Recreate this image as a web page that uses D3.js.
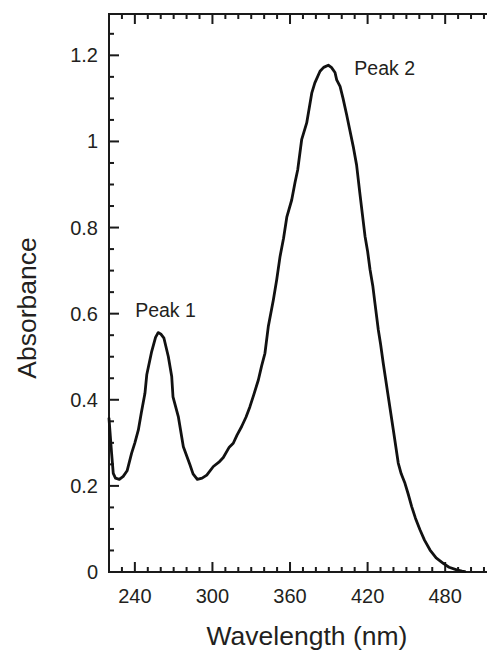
<!DOCTYPE html>
<html>
<head>
<meta charset="utf-8">
<script src="https://cdn.jsdelivr.net/npm/d3@7"></script>
<style>
  html, body { margin: 0; padding: 0; background: #fff; }
  svg { display: block; }
  text { font-family: "Liberation Sans", Arial, Helvetica, sans-serif; fill: #231f20; }
</style>
</head>
<body>
<svg id="chart" width="487" height="651"></svg>
<script>
// Data
const wavelength = [220, 222, 223.3, 225, 228, 231, 234, 237.5, 240, 242.7, 245, 247.8, 249.2, 253, 256, 258, 260, 262.5, 265.9, 268.5, 269.5, 273.6, 277.5, 282.6, 285, 288.3, 292, 295.6, 300.7, 305, 308.4, 313, 316.1, 319, 322.6, 326, 329, 332, 335.5, 338, 340.6, 343.2, 347.1, 349.7, 352.3, 355, 357.5, 361.3, 363.9, 366, 369, 372.9, 376.8, 379.2, 383.2, 386, 389.6, 392, 394.8, 396.1, 398.7, 401, 403.8, 406, 408.9, 411.5, 414, 416, 418, 420, 421.9, 424, 425.7, 428.3, 430, 432.1, 436, 439.9, 443.7, 446, 448.9, 451.5, 454.1, 457, 460.5, 464, 468.3, 473, 478.5, 483, 488.9, 493, 495.3];
const absorbance = [0.357, 0.276, 0.229, 0.218, 0.215, 0.222, 0.235, 0.276, 0.300, 0.330, 0.370, 0.415, 0.458, 0.512, 0.545, 0.556, 0.553, 0.543, 0.500, 0.454, 0.407, 0.361, 0.291, 0.249, 0.228, 0.215, 0.218, 0.225, 0.245, 0.255, 0.266, 0.290, 0.299, 0.318, 0.338, 0.360, 0.384, 0.412, 0.446, 0.478, 0.508, 0.570, 0.632, 0.679, 0.733, 0.775, 0.824, 0.864, 0.905, 0.935, 1.004, 1.043, 1.112, 1.136, 1.163, 1.172, 1.177, 1.172, 1.160, 1.143, 1.128, 1.100, 1.062, 1.030, 0.988, 0.945, 0.880, 0.830, 0.780, 0.745, 0.702, 0.665, 0.624, 0.562, 0.530, 0.485, 0.407, 0.330, 0.253, 0.228, 0.206, 0.180, 0.152, 0.125, 0.098, 0.074, 0.051, 0.033, 0.020, 0.011, 0.005, 0.002, 0.001];

const xTicks = [240, 300, 360, 420, 480];
const xMinorTicks = [230, 250, 260, 270, 280, 290, 310, 320, 330, 340, 350, 370, 380, 390, 400, 410, 430, 440, 450, 460, 470, 490, 500, 510];
const yTicks = [0, 0.2, 0.4, 0.6, 0.8, 1, 1.2];
const yMinorTicks = [0.05, 0.1, 0.15, 0.25, 0.3, 0.35, 0.45, 0.5, 0.55, 0.65, 0.7, 0.75, 0.85, 0.9, 0.95, 1.05, 1.1, 1.15, 1.25];
const peakLabels = ["Peak 1", "Peak 2"];
const peakWavelengths = [258, 389.6];
const peakValues = [0.556, 1.177];

const xTitle = "Wavelength (nm)";
const yTitle = "Absorbance";

const svg = d3.select("#chart");
const mLeft = 109, mTop = 14, mBottom = 572;

const x = d3.scaleLinear().domain([220, 520]).range([mLeft, mLeft + 300 * 1.293]);
const y = d3.scaleLinear().domain([0, 1.296]).range([mBottom, mTop]);

const axisColor = "#1a1a1a";
const majorLen = 10, minorLen = 5, tickW = 2;

const xAll = xTicks.map(v => ({v: v, len: majorLen})).concat(xMinorTicks.map(v => ({v: v, len: minorLen})));
const yAll = yTicks.filter(v => v > 0).map(v => ({v: v, len: majorLen})).concat(yMinorTicks.map(v => ({v: v, len: minorLen})));

const x0 = x(220), x1 = x(520), yb = y(0), yt = y(1.296);

// ticks drawn as small filled rectangles positioned by the scales
const tg = svg.append("g").attr("fill", axisColor);
tg.selectAll("rect.xb").data(xAll).enter().append("rect").attr("class", "xb")
  .attr("x", d => x(d.v) - tickW / 2).attr("y", d => yb - d.len)
  .attr("width", tickW).attr("height", d => d.len);
tg.selectAll("rect.xt").data(xAll).enter().append("rect").attr("class", "xt")
  .attr("x", d => x(d.v) - tickW / 2).attr("y", yt)
  .attr("width", tickW).attr("height", d => d.len);
tg.selectAll("rect.yl").data(yAll).enter().append("rect").attr("class", "yl")
  .attr("x", x0).attr("y", d => y(d.v) - tickW / 2)
  .attr("width", d => d.len).attr("height", tickW);

// frame lines (left, bottom, top)
tg.append("rect").attr("x", x0 - 1).attr("y", yt - 1).attr("width", 2).attr("height", yb - yt + 2);
tg.append("rect").attr("x", x0 - 1).attr("y", yb - 1).attr("width", x1 - x0 + 1).attr("height", 2);
tg.append("rect").attr("x", x0 - 1).attr("y", yt - 1).attr("width", x1 - x0 + 1).attr("height", 2);

// tick labels
svg.selectAll("text.xl").data(xTicks).enter().append("text").attr("class", "xl")
  .attr("x", d => x(d)).attr("y", y(0) + 31)
  .attr("text-anchor", "middle").attr("font-size", 20)
  .text(d => d3.format("d")(d));
svg.selectAll("text.ylab").data(yTicks).enter().append("text").attr("class", "ylab")
  .attr("x", x(220) - 11).attr("y", d => y(d) + 7)
  .attr("text-anchor", "end").attr("font-size", 20)
  .text(d => d3.format("~g")(d));

// curve
const pts = wavelength.map((w, i) => [w, absorbance[i]]);
svg.append("path")
  .datum(pts)
  .attr("fill", "none")
  .attr("stroke", "#111")
  .attr("stroke-width", 2.8)
  .attr("stroke-linejoin", "round")
  .attr("stroke-linecap", "round")
  .attr("d", d3.line().x(d => x(d[0])).y(d => y(d[1])));

// peak labels
svg.selectAll("text.peak").data(peakLabels).enter().append("text")
  .attr("class", "peak")
  .attr("x", (d, i) => i === 0 ? x(peakWavelengths[i]) - 23 : x(peakWavelengths[i]) + 26)
  .attr("y", (d, i) => i === 0 ? y(peakValues[i]) - 16 : y(peakValues[i]) + 10)
  .attr("font-size", 19.5)
  .text(d => d);

// axis titles
svg.append("text")
  .attr("x", 307)
  .attr("y", 645)
  .attr("text-anchor", "middle")
  .attr("font-size", 26.5)
  .text(xTitle);

svg.append("text")
  .attr("transform", `translate(36,${(mTop + mBottom) / 2 + 15}) rotate(-90)`)
  .attr("text-anchor", "middle")
  .attr("font-size", 26.5)
  .text(yTitle);
</script>
</body>
</html>
